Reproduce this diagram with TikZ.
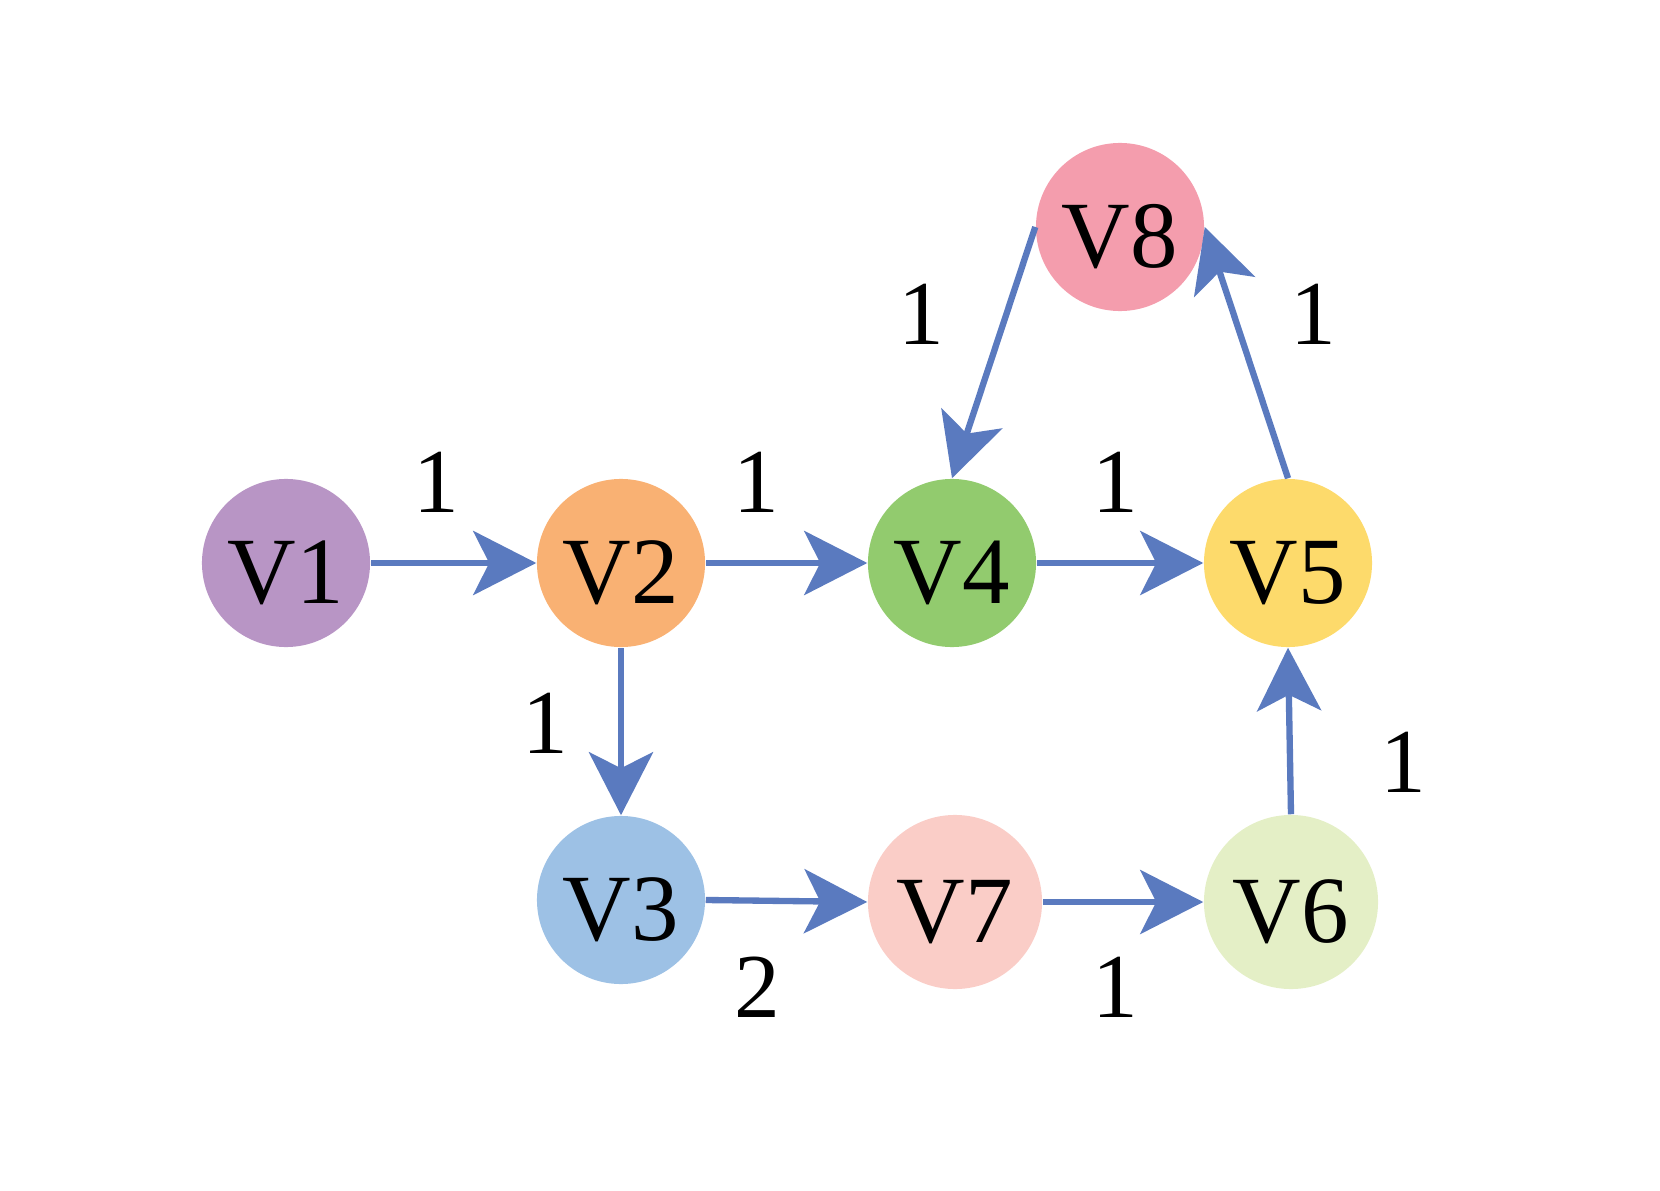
\documentclass[tikz,border=0pt]{standalone}
\usepackage{fontspec}
\setmainfont{Liberation Serif}
\usepackage{tikz}
\usetikzlibrary{arrows.meta}
\definecolor{edgeblue}{HTML}{5A7ABF}
\definecolor{vone}{HTML}{B895C5}
\definecolor{vtwo}{HTML}{F9B173}
\definecolor{vthree}{HTML}{9DC1E5}
\definecolor{vfour}{HTML}{92CB6E}
\definecolor{vfive}{HTML}{FDDA6B}
\definecolor{vsix}{HTML}{E4EFC6}
\definecolor{vseven}{HTML}{FACDC7}
\definecolor{veight}{HTML}{F49DAD}
\begin{document}
\begin{tikzpicture}[x=0.01cm,y=-0.01cm,font=\fontsize{26}{30}\selectfont,
  vertex/.style={circle,inner sep=0pt,minimum size=1.68cm,
    label={[font=\fontsize{27}{30}\selectfont,yshift=-0.1cm]center:V#1}},
  bigvertex/.style={vertex=#1,minimum size=1.74cm},
  edge/.style={edgeblue,line width=1.8pt,-{Stealth[length=6.3mm,width=6.4mm,inset=1.6mm]}}]
\useasboundingbox (0,0) rectangle (1660,1191);
% vertices
\node[vertex=1,fill=vone] (v1) at (286,563) {};
\node[vertex=2,fill=vtwo] (v2) at (621,563) {};
\node[vertex=4,fill=vfour] (v4) at (952,563) {};
\node[vertex=5,fill=vfive] (v5) at (1288,563) {};
\node[vertex=8,fill=veight] (v8) at (1120,227) {};
\node[vertex=3,fill=vthree] (v3) at (621,900) {};
\node[bigvertex=7,fill=vseven] (v7) at (955,902) {};
\node[bigvertex=6,fill=vsix] (v6) at (1291,902) {};
% edges
\draw[edge] (v1) -- (v2);
\draw[edge] (v2) -- (v4);
\draw[edge] (v4) -- (v5);
\draw[edge] (v2) -- (v3);
\draw[edge] (v8.west) -- (v4.north);
\draw[edge] (v5.north) -- (v8.east);
\draw[edge] (v6.north) -- (v5.south);
\draw[edge] (v3.east) -- (v7.west);
\draw[edge] (v7) -- (v6);
% weights
\node (w12) at (436,482) {1};
\node (w24) at (756,482) {1};
\node (w45) at (1115,482) {1};
\node (w23) at (545,723) {1};
\node (w84) at (921,314) {1};
\node (w58) at (1313,314) {1};
\node (w65) at (1403,762) {1};
\node (w37) at (757,987) {2};
\node (w76) at (1115,987) {1};
\end{tikzpicture}
\end{document}
